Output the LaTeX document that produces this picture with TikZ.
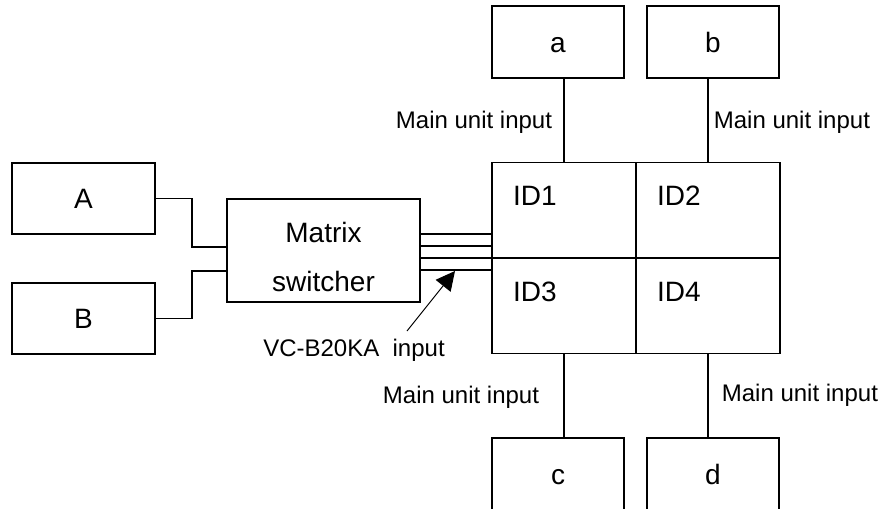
\documentclass[tikz,border=0pt]{standalone}
\usepackage{fontspec}
\setmainfont{Liberation Sans}
\usepackage{tikz}
\usetikzlibrary{arrows.meta,positioning,calc}

\begin{document}
\begin{tikzpicture}[
    x=0.5pt, y=-0.5pt,
    line width=0.9pt,
    unit/.style={draw, minimum width=66pt, minimum height=36pt, inner sep=0pt, text height=10pt, text depth=0pt, font=\fontsize{14}{17}\selectfont},
    src/.style={draw, minimum width=71.5pt, minimum height=35.5pt, inner sep=0pt, font=\fontsize{14}{17}\selectfont},
    cell/.style={draw, minimum width=72pt, minimum height=47.75pt, inner sep=0pt},
    idtext/.style={anchor=west, inner sep=0pt, font=\fontsize{14}{17}\selectfont},
    note/.style={inner sep=0pt, font=\fontsize{12}{14}\selectfont},
    pointer/.style={line width=0.5pt, -{Triangle[length=9.5pt, width=9.5pt]}},
]
\useasboundingbox (0,0) rectangle (880,509);

% Sources
\node[src] (A) at (83.5,198.5) {A};
\node[src] (B) at (83.5,318.5) {B};

% Matrix switcher
\node[draw, minimum width=96.5pt, minimum height=51.5pt] (mtx) at (323.5,250.5) {};
\node[align=center, inner sep=0pt, font=\fontsize{14}{24.5}\selectfont] (mtxname) at (323.5,257) {Matrix\\switcher};

% Display wall
\node[cell] (id1) at (564,210.25) {};
\node[cell] (id2) at (708,210.25) {};
\node[cell] (id3) at (564,305.75) {};
\node[cell] (id4) at (708,305.75) {};
\foreach \n in {1,...,4}
  \node[idtext] (txt\n) at ($(id\n.north west)+(21,34.5)$) {ID\n};

% Main units
\node[unit] (a) at (558,42) {a};
\node[unit] (b) at (713,42) {b};
\node[unit] (c) at (558,474) {c};
\node[unit] (d) at (713,474) {d};

% Links
\draw (A.east) -| (192,247) -- (mtx.west |- 192,247);
\draw (B.east) -| (192,271) -- (mtx.west |- 192,271);
\foreach \yy in {234,246,258,270}
  \draw (mtx.east |- 0,\yy) -- (id1.west |- 0,\yy);
\draw (id1.north) -- (id1.north |- a.south);
\draw (id2.north) -- (id2.north |- b.south);
\draw (id3.south) -- (id3.south |- c.north);
\draw (id4.south) -- (id4.south |- d.north);

% Labels
\node[note] (ina) at (474,122) {Main unit input};
\node[note, anchor=west] (inb) at (713,122) {Main unit input};
\node[note] (inc) at (461,397) {Main unit input};
\node[note, anchor=west] (ind) at (721,395) {Main unit input};
\node[note] (vcin) at (354,350) {VC-B20KA\ \ input};

\coordinate (vctail) at (407,331);
\coordinate (vctip) at (455,271);
\draw[pointer] (vctail) -- (vctip);
\end{tikzpicture}
\end{document}
